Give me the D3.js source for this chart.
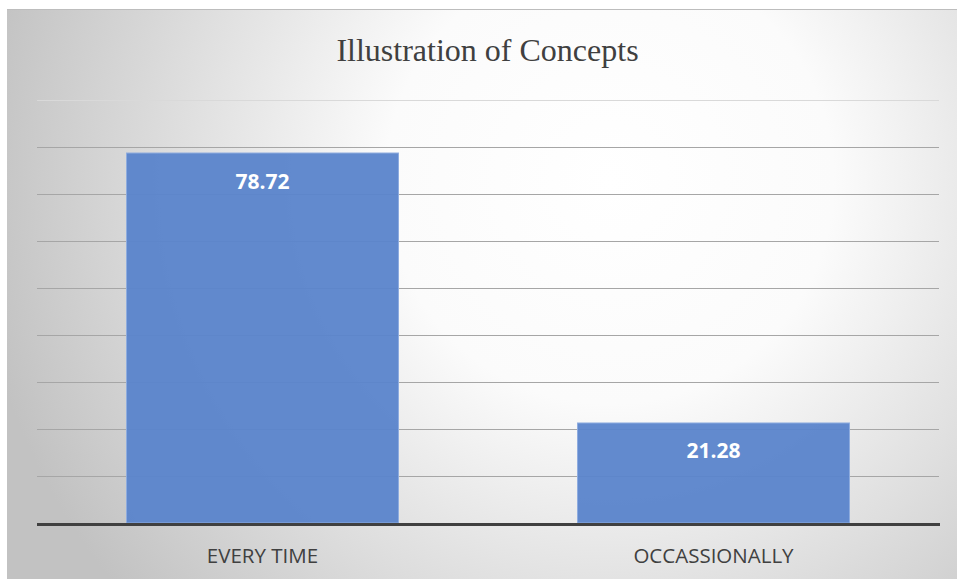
<!DOCTYPE html>
<html><head><meta charset="utf-8">
<script src="https://cdn.jsdelivr.net/npm/d3@7"></script>
<style>html,body{margin:0;padding:0;background:#fff;}svg{display:block;}</style>
</head><body>
<svg id="c" width="957" height="579"></svg>
<script>
const categories = ["EVERY TIME", "OCCASSIONALLY"];
const values = [78.72, 21.28];
const labels = ["78.72", "21.28"];
const yTicks = [0, 10, 20, 30, 40, 50, 60, 70, 80, 90];
const title = "Illustration of Concepts";

(function(){
const svg = d3.select("#c");
const defs = svg.append("defs");
const g = defs.append("radialGradient").attr("id","bg")
  .attr("gradientUnits","userSpaceOnUse").attr("cx",610).attr("cy",180).attr("r",640);
g.append("stop").attr("offset","0%").attr("stop-color","#ffffff");
g.append("stop").attr("offset","35%").attr("stop-color","#fbfbfb");
g.append("stop").attr("offset","100%").attr("stop-color","#c2c2c2");

svg.append("rect").attr("x",7).attr("y",9).attr("width",950).attr("height",570).attr("fill","url(#bg)");
svg.append("line").attr("x1",7).attr("x2",957).attr("y1",9.5).attr("y2",9.5).attr("stroke","#bdbdbd").attr("stroke-width",1);

const pLeft = 37, pRight = 939, pTop = 100, pBottom = 523;
const x = d3.scaleBand().domain(categories).range([pLeft, pRight]).paddingInner(0.397).paddingOuter(0.1985);
const y = d3.scaleLinear().domain([0, 90]).range([pBottom, pTop]);

// gridlines
svg.append("g").selectAll("line").data(yTicks.filter(d=>d>0)).join("line")
  .attr("x1", pLeft).attr("x2", pRight)
  .attr("y1", d=>Math.round(y(d))+0.5).attr("y2", d=>Math.round(y(d))+0.5)
  .attr("stroke", d=> d===90 ? "#d9d9d9" : "#a6a6a6").attr("stroke-width",1);

// bars
svg.append("g").selectAll("rect").data(values).join("rect")
  .attr("x", (d,i)=>x(categories[i]))
  .attr("y", d=>y(d))
  .attr("width", x.bandwidth())
  .attr("height", d=>pBottom - y(d))
  .attr("fill", "#5a84cb").attr("fill-opacity",0.95)
  .attr("stroke","#8eacdf").attr("stroke-width",1);

// value labels
svg.append("g").selectAll("text").data(values).join("text")
  .attr("x", (d,i)=>x(categories[i]) + x.bandwidth()/2)
  .attr("y", d=>y(d) + 35.5)
  .attr("text-anchor","middle")
  .attr("font-family","'Open Sans', sans-serif").attr("font-weight","bold")
  .attr("font-size",21).attr("fill","#ffffff")
  .text((d,i)=>labels[i]);

// axis baseline
svg.append("line").attr("x1",pLeft).attr("x2",pRight+1).attr("y1",pBottom+1.5).attr("y2",pBottom+1.5)
  .attr("stroke","#404040").attr("stroke-width",3);

// category labels
svg.append("g").selectAll("text").data(categories).join("text")
  .attr("x", d=>x(d) + x.bandwidth()/2)
  .attr("y", 563)
  .attr("text-anchor","middle")
  .attr("font-family","'Open Sans', sans-serif")
  .attr("font-size",20.5).attr("fill","#404040")
  .text(d=>d);

// title
svg.append("text").attr("x",487.5).attr("y",61).attr("text-anchor","middle")
  .attr("font-family","'Liberation Serif', 'Times New Roman', serif")
  .attr("font-size",32).attr("fill","#404040").text(title);
})();
</script>
</body></html>
